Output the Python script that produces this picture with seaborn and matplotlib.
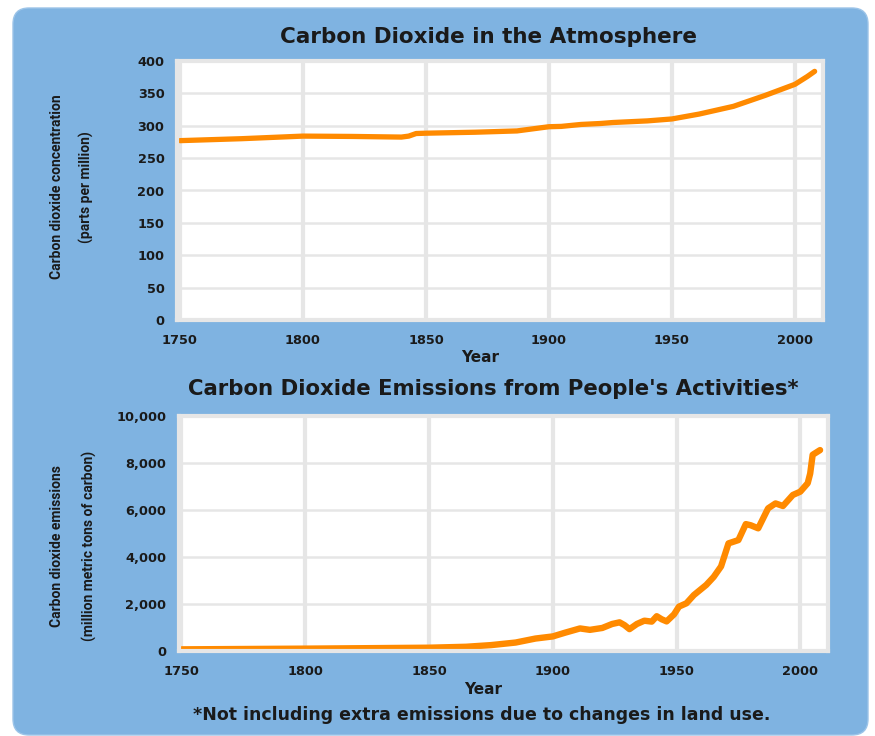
import matplotlib
matplotlib.use("Agg")
import matplotlib.pyplot as plt
import matplotlib.transforms as mtransforms
from matplotlib.patches import FancyBboxPatch
import seaborn as sns
import pandas as pd

# ---------------- data ----------------
conc_years = [1750, 1775, 1800, 1820, 1840, 1843, 1846, 1850, 1870, 1887, 1895, 1900,
              1905, 1913, 1921, 1926, 1940, 1950, 1961, 1975, 1988, 2000, 2005, 2008]
conc_ppm = [277, 280, 284, 283.5, 282.5, 284, 288, 288.5, 290, 292, 296, 298.5,
            299, 302, 303.5, 305, 307.5, 310.5, 318, 330, 347, 364, 376, 384]

emis_years = [1750, 1775, 1800, 1825, 1850, 1865, 1875, 1885, 1893, 1900, 1905, 1911,
              1915, 1920, 1924, 1927, 1929, 1931, 1934, 1937, 1940, 1942, 1944, 1946,
              1949, 1951, 1954, 1957, 1962, 1965, 1968, 1971, 1975, 1978, 1980, 1983,
              1987, 1990, 1993, 1997, 2000, 2003, 2004, 2005, 2008]
emis_mmt = [70, 85, 100, 120, 140, 180, 250, 360, 530, 620, 780, 960,
            900, 980, 1150, 1220, 1100, 930, 1150, 1290, 1250, 1480, 1350, 1260,
            1560, 1890, 2030, 2380, 2810, 3150, 3600, 4580, 4720, 5400, 5350, 5220,
            6070, 6280, 6170, 6640, 6780, 7140, 7550, 8350, 8550]

year_ticks = [1750, 1800, 1850, 1900, 1950, 2000]
conc_ticks = [0, 50, 100, 150, 200, 250, 300, 350, 400]
emis_ticks = [0, 2000, 4000, 6000, 8000, 10000]
emis_tick_labels = ["0", "2,000", "4,000", "6,000", "8,000", "10,000"]

title_top = "Carbon Dioxide in the Atmosphere"
title_bottom = "Carbon Dioxide Emissions from People's Activities*"
ylab_top = ["Carbon dioxide concentration", "(parts per million)"]
ylab_bottom = ["Carbon dioxide emissions", "(million metric tons of carbon)"]
footnote = "*Not including extra emissions due to changes in land use."

conc_df = pd.DataFrame({"Year": conc_years, "ppm": conc_ppm})
emis_df = pd.DataFrame({"Year": emis_years, "mmt": emis_mmt})

# ---------------- style ----------------
sns.set_theme(style="white")
plt.rcParams['font.family'] = ['DejaVu Sans']

BLUE = "#7fb3e1"
ORANGE = "#ff8a00"
GRID = "#e6e6e6"
TXT = "#1a1a1a"

W, H = 875, 736
fig = plt.figure(figsize=(W / 100, H / 100), dpi=100, facecolor="white")

bg = FancyBboxPatch((13, 1), 855, 727, boxstyle="round,pad=0,rounding_size=16",
                    transform=mtransforms.IdentityTransform(),
                    facecolor=BLUE, edgecolor="#9cc4e8", linewidth=1, zorder=-5)
fig.add_artist(bg)


def px_axes(left, top, right, bottom):
    return fig.add_axes([left / W, 1 - bottom / H, (right - left) / W, (bottom - top) / H])


def style_axes(ax):
    ax.set_facecolor("white")
    ax.xaxis.grid(True, color=GRID, linewidth=3)
    ax.yaxis.grid(True, color=GRID, linewidth=1.8)
    ax.set_axisbelow(True)
    for s in ax.spines.values():
        s.set_color(GRID)
        s.set_linewidth(3)
    ax.tick_params(axis="both", which="major", direction="out", color="#f4f4f4",
                   width=1.5, labelcolor=TXT, labelsize=9.3)
    ax.tick_params(axis="y", length=7, pad=2)
    ax.tick_params(axis="x", length=4, pad=6)
    for lab in ax.get_xticklabels() + ax.get_yticklabels():
        lab.set_fontweight("bold")
    ax.set_xlabel("")
    ax.set_ylabel("")


# ---- top panel ----
ax1 = px_axes(177, 61, 823, 320)
sns.lineplot(data=conc_df, x="Year", y="ppm", ax=ax1, color=ORANGE, linewidth=3.8,
             solid_capstyle="round")
ax1.set_xlim(1748.8, 2011.4)
ax1.set_ylim(0, 400)
ax1.set_xticks(year_ticks)
ax1.set_xticklabels([str(y) for y in year_ticks])
ax1.set_yticks(conc_ticks)
ax1.set_yticklabels([str(v) for v in conc_ticks])
style_axes(ax1)

# ---- bottom panel ----
ax2 = px_axes(179, 416, 828, 651)
sns.lineplot(data=emis_df, x="Year", y="mmt", ax=ax2, color=ORANGE, linewidth=4.6,
             solid_capstyle="round")
ax2.set_xlim(1749, 2011.2)
ax2.set_ylim(0, 10000)
ax2.set_xticks(year_ticks)
ax2.set_xticklabels([str(y) for y in year_ticks])
ax2.set_yticks(emis_ticks)
ax2.set_yticklabels(emis_tick_labels)
style_axes(ax2)


def ftext(x, y, s, **kw):
    return fig.text(x / W, 1 - y / H, s, **kw)


# titles
ftext(488, 37, title_top, ha="center", va="center", fontsize=15.5, fontweight="bold", color=TXT)
ftext(493, 389, title_bottom, ha="center", va="center", fontsize=15.3, fontweight="bold", color=TXT)

# x labels
ftext(480, 357, "Year", ha="center", va="center", fontsize=11, fontweight="bold", color=TXT)
ftext(483, 690, "Year", ha="center", va="center", fontsize=11, fontweight="bold", color=TXT)

# y labels (two lines each)
narrow = ["Roboto", "DejaVu Sans"]
ftext(57, 187, ylab_top[0], rotation=90, ha="center", va="center", fontsize=10,
      fontweight="bold", family=narrow, color=TXT)
ftext(86, 187, ylab_top[1], rotation=90, ha="center", va="center", fontsize=10,
      fontweight="bold", family=narrow, color=TXT)
ftext(57, 546, ylab_bottom[0], rotation=90, ha="center", va="center", fontsize=10,
      fontweight="bold", family=narrow, color=TXT)
ftext(89, 546, ylab_bottom[1], rotation=90, ha="center", va="center", fontsize=10,
      fontweight="bold", family=narrow, color=TXT)

# footnote
ftext(482, 715, footnote, ha="center", va="center", fontsize=12.5, fontweight="bold", color=TXT)

fig.savefig("out.png", dpi=100, facecolor="white")
